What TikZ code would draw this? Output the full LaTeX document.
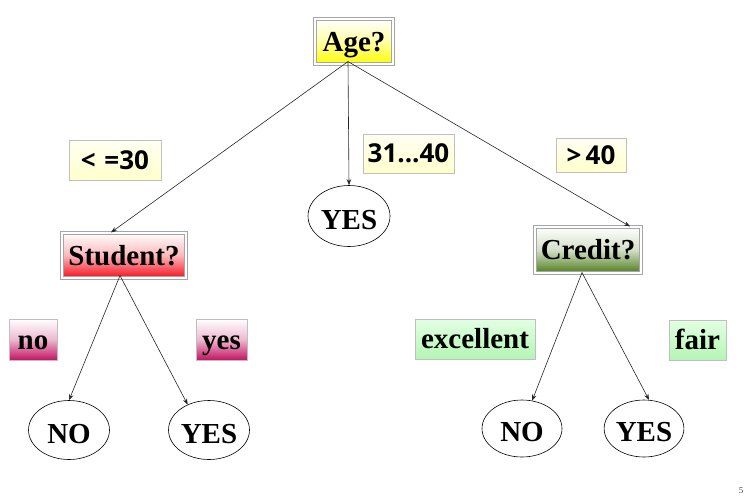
\documentclass[tikz,border=0pt]{standalone}
\usepackage{fontspec}
\setmainfont{Liberation Serif}
\newfontfamily\lblfont{Open Sans}
\usetikzlibrary{shapes.geometric,arrows.meta}
\definecolor{gyel}{HTML}{FFFF00}
\definecolor{gred}{HTML}{F5101E}
\definecolor{ggrn}{HTML}{4F7D1C}
\definecolor{gmag}{HTML}{C21461}
\definecolor{lyel}{HTML}{FFFFCC}
\definecolor{lyelt}{HTML}{FFFFF2}
\definecolor{lgrn}{HTML}{B4F5B4}
\definecolor{lgrnt}{HTML}{E2FFE2}
\tikzset{
  serif/.style={font=\fontsize{29}{31}\selectfont\bfseries, text height=19pt, text depth=0pt},
  testbox/.style={rectangle, inner sep=0pt, draw=gray!70, line width=1.1pt,
    double=white, double distance=1.3pt, serif},
  valbox/.style={rectangle, inner sep=0pt, draw=gray!50, line width=1pt,
    font=\fontsize{26}{28}\selectfont\lblfont\bfseries, text height=18.6pt, text depth=0pt},
  serifval/.style={rectangle, inner sep=0pt, draw=gray!50, line width=1pt, serif},
  leaf/.style={ellipse, draw=black, line width=0.6pt, inner sep=0pt, serif, text height=26pt},
  arr/.style={draw=black!85, line width=0.6pt, -{Stealth[length=6pt,width=4.5pt]}}
}
\begin{document}
\begin{tikzpicture}[x=1pt,y=-1pt]
\useasboundingbox (0,0) rectangle (744,498);
% test nodes
\node[testbox, top color=white, bottom color=gyel, middle color=gyel!35,
  minimum width=78pt, minimum height=45pt] (age) at (354,41.5) {Age?};
\node[testbox, top color=white, bottom color=gred, middle color=gred!30,
  minimum width=124pt, minimum height=45pt] (student) at (124,255.5) {Student?};
\node[testbox, top color=white, bottom color=ggrn, middle color=ggrn!25,
  minimum width=106pt, minimum height=46pt] (credit) at (588,250) {Credit?};
% value labels
\node[valbox, top color=lyelt, bottom color=lyel,
  minimum width=92pt, minimum height=40pt] (le30) at (115,160) {<\,\,=30};
\node[valbox, top color=lyelt, bottom color=lyel,
  minimum width=91pt, minimum height=39pt] (v3140) at (408.5,153.5) {31...40};
\node[valbox, top color=lyelt, bottom color=lyel,
  minimum width=70pt, minimum height=34pt] (gt40) at (591,155) {>\,40};
\node[serifval, top color=white, bottom color=gmag, middle color=gmag!30,
  minimum width=48pt, minimum height=41pt] (vno) at (33,339.5) {no};
\node[serifval, top color=white, bottom color=gmag, middle color=gmag!30,
  minimum width=51pt, minimum height=41pt] (vyes) at (221.5,339.5) {yes};
\node[serifval, top color=lgrnt, bottom color=lgrn,
  minimum width=120pt, minimum height=40pt] (vexc) at (475,339) {excellent};
\node[serifval, top color=lgrnt, bottom color=lgrn,
  minimum width=57pt, minimum height=40pt] (vfair) at (697.5,340) {fair};
% leaves
\node[leaf, minimum width=82pt, minimum height=61pt] (midyes) at (349,216) {YES};
\node[leaf, minimum width=81pt, minimum height=59pt] (lno) at (69,430) {NO};
\node[leaf, minimum width=81pt, minimum height=59pt] (lyes) at (209,430) {YES};
\node[leaf, minimum width=80pt, minimum height=57pt] (rno) at (522,428.5) {NO};
\node[leaf, minimum width=72pt, minimum height=57pt] (ryes) at (644,428.5) {YES};
% connectors
\draw[arr] ([xshift=-6pt,yshift=3pt]age.south) -- ([xshift=-13pt]student.north);
\draw[arr] ([xshift=-6pt,yshift=3pt]age.south) -- (midyes.north);
\draw[arr] ([xshift=-6pt,yshift=3pt]age.south) -- ([xshift=42pt]credit.north);
\draw[arr] ([xshift=-4pt,yshift=3pt]student.south) -- (lno.north);
\draw[arr] ([xshift=-4pt,yshift=3pt]student.south) -- (lyes.130);
\draw[arr] ([xshift=-6pt,yshift=1pt]credit.south) -- (rno.70);
\draw[arr] ([xshift=-6pt,yshift=1pt]credit.south) -- (ryes.80);
% page number
\node[font=\fontsize{9}{10}\selectfont, text=black!70, inner sep=0pt] (pg) at (741,491) {5};
\end{tikzpicture}
\end{document}
